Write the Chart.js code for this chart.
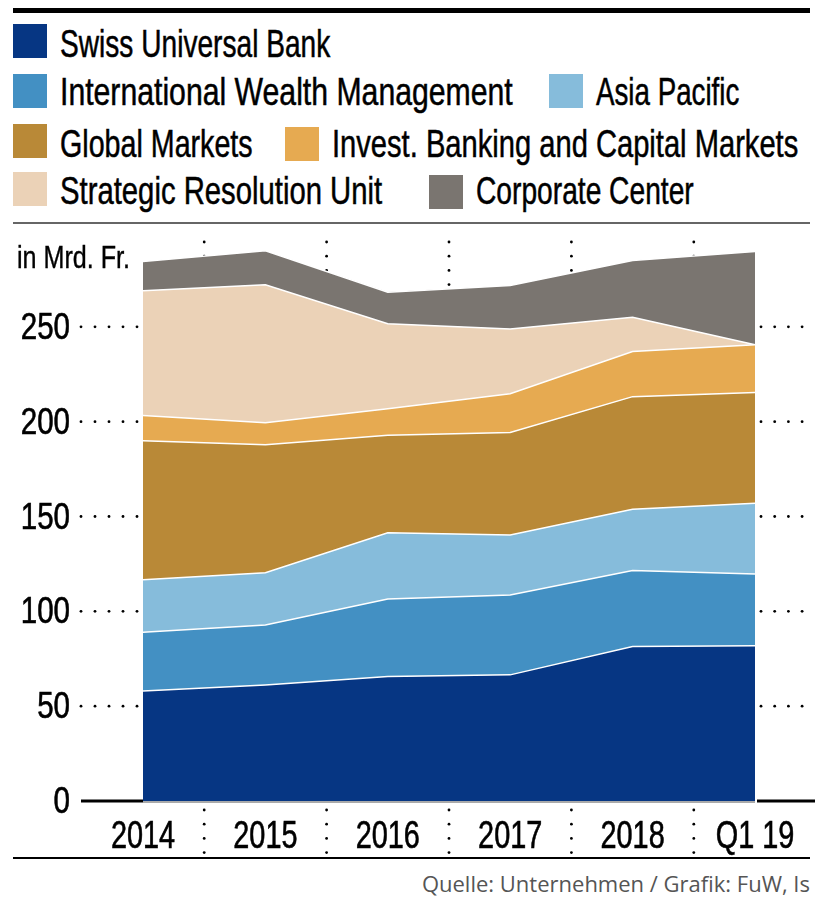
<!DOCTYPE html>
<html>
<head>
<meta charset="utf-8">
<script src="https://cdn.jsdelivr.net/npm/chart.js@4.4.1/dist/chart.umd.min.js"></script>
<style>
  body { margin: 0; background: #fff; width: 828px; height: 911px; position: relative; overflow: hidden;
         font-family: 'Liberation Sans', Arial, sans-serif; color: #000; }
  .rule { position: absolute; left: 13px; width: 797px; }
  .box { position: absolute; width: 34px; height: 34px; }
  .lbl { position: absolute; font-size: 38px; line-height: 38px; white-space: nowrap;
         transform-origin: left center; -webkit-text-stroke: 0.5px #000; }
  #unit { position: absolute; left: 17px; top: 241px; font-size: 32px; line-height: 32px; white-space: nowrap;
          transform-origin: left center; -webkit-text-stroke: 0.4px #000; }
  #source { position: absolute; right: 18px; top: 873px; font-family: 'Open Sans', sans-serif;
            font-size: 22px; line-height: 21px; color: #555; }
  #wrap { position: absolute; left: 0; top: 230px; width: 828px; height: 630px; }
</style>
</head>
<body>
<div class="rule" style="top:8px;height:5px;background:#000"></div>
<div id="legend"></div>
<div class="rule" style="top:222px;height:2px;background:#666"></div>
<div id="wrap"><canvas id="chart" width="828" height="630"></canvas></div>
<div id="unit">in Mrd. Fr.</div>
<div class="rule" style="top:857px;height:2px;background:#000"></div>
<div id="source">Quelle: Unternehmen / Grafik: FuW, Is</div>
<script>
// Categories and series (in Mrd. Fr.)
const years = ['2014', '2015', '2016', '2017', '2018', 'Q1 19'];
const swissUniversalBank = [58, 61.2, 65.6, 66.5, 81.5, 81.8];
const intlWealthMgmt = [31, 31.6, 40.9, 42.1, 40, 37.9];
const asiaPacific = [27.6, 27.5, 34.9, 31.7, 32.3, 37.3];
const globalMarkets = [73.4, 67.5, 51.4, 54, 59.4, 58.4];
const investBanking = [13.3, 11.6, 14, 20.4, 23.8, 25.1];
const strategicResolution = [65.7, 72.8, 44.8, 34.1, 18.1, 0];
const corporateCenter = [15.4, 17.9, 16.7, 23, 29.9, 49.2];
const yTicks = [0, 50, 100, 150, 200, 250];

const series = [
    { label: 'Swiss Universal Bank', data: swissUniversalBank, color: '#063683' },
    { label: 'International Wealth Management', data: intlWealthMgmt, color: '#4390c3' },
    { label: 'Asia Pacific', data: asiaPacific, color: '#86bcdb' },
    { label: 'Global Markets', data: globalMarkets, color: '#b98937' },
    { label: 'Invest. Banking and Capital Markets', data: investBanking, color: '#e6aa51' },
    { label: 'Strategic Resolution Unit', data: strategicResolution, color: '#ebd2b7' },
    { label: 'Corporate Center', data: corporateCenter, color: '#7a7570' }
];

// legend: [box left, box top, text left, text top, text width]
const legendPos = [
    [13, 24, 60, 25, 270], [13, 74, 60, 73, 453], [549, 74, 596, 73, 143],
    [13, 124, 60, 125, 193], [285, 127, 332, 125, 466],
    [13, 172, 60, 172, 322], [429, 175, 476, 172, 218]
];
let legendHtml = '';
series.forEach((s, i) => {
    const p = legendPos[i];
    legendHtml += `<div class="box" style="left:${p[0]}px;top:${p[1]}px;background:${s.color}"></div>
        <div class="lbl" data-w="${p[4]}" style="left:${p[2]}px;top:${p[3]}px">${s.label}</div>`;
});
document.getElementById('legend').innerHTML = legendHtml;

// squeeze the labels to the width of the condensed original font
function fitWidth(el, w) {
    el.style.transform = `scaleX(${w / el.offsetWidth})`;
}
document.querySelectorAll('.lbl').forEach(el => fitWidth(el, +el.dataset.w));
fitWidth(document.getElementById('unit'), 113);

function dot(ctx, x, y) {
    ctx.beginPath();
    ctx.arc(x, y, 1.4, 0, Math.PI * 2);
    ctx.fill();
}

function squeezedText(ctx, text, x, y, align, sx) {
    ctx.save();
    ctx.translate(x, y);
    ctx.scale(sx, 1);
    ctx.textAlign = align;
    ctx.textBaseline = 'alphabetic';
    ctx.lineWidth = 0.6;
    ctx.strokeStyle = '#000';
    ctx.fillText(text, 0, 0);
    ctx.strokeText(text, 0, 0);
    ctx.restore();
}

const decorations = {
    id: 'decorations',
    beforeDatasetsDraw(chart) {
        const ctx = chart.ctx, xs = chart.scales.x;
        ctx.save();
        ctx.fillStyle = '#000';
        for (let i = 0; i < years.length - 1; i++) {
            const x = (xs.getPixelForTick(i) + xs.getPixelForTick(i + 1)) / 2;
            for (let y = 12; y < 625; y += 14.2) dot(ctx, x, y);
        }
        ctx.restore();
    },
    afterDatasetsDraw(chart) {
        const ctx = chart.ctx, xs = chart.scales.x, ys = chart.scales.y, area = chart.chartArea;
        ctx.save();
        ctx.fillStyle = '#000';
        ys.ticks.forEach((t, i) => {
            if (t.value === 0) return;
            const y = ys.getPixelForTick(i);
            for (let x = 81; x < 140; x += 14) dot(ctx, x, y);
            for (let x = 761; x < 805; x += 13.7) dot(ctx, x, y);
        });
        const y0 = ys.getPixelForValue(0);
        ctx.fillStyle = '#aaa';
        ctx.fillRect(area.left, y0, area.right - area.left, 2);
        ctx.fillStyle = '#000';
        ctx.fillRect(81, y0 - 1.5, area.left - 81, 3);
        ctx.fillRect(area.right + 2, y0 - 1.5, 815 - area.right - 2, 3);

        // tick labels, from the library's scales
        ctx.font = "36px 'Liberation Sans', Arial, sans-serif";
        ys.ticks.forEach((t, i) => {
            squeezedText(ctx, String(t.value), 70, ys.getPixelForTick(i) + 12, 'right', 0.82);
        });
        ctx.font = "38px 'Liberation Sans', Arial, sans-serif";
        xs.ticks.forEach((t, i) => {
            squeezedText(ctx, xs.getLabelForValue(t.value), xs.getPixelForTick(i), area.bottom + 47, 'center', 0.76);
        });
        ctx.restore();
    }
};

new Chart(document.getElementById('chart'), {
    type: 'line',
    data: {
        labels: years,
        datasets: series.map((s, i) => ({
            label: s.label,
            data: s.data,
            backgroundColor: s.color,
            borderColor: '#fff',
            borderWidth: 1.5,
            pointRadius: 0,
            tension: 0,
            fill: i === 0 ? 'origin' : '-1'
        }))
    },
    options: {
        responsive: false,
        animation: false,
        layout: { padding: { top: 2, right: 73, left: 143, bottom: 59 } },
        plugins: { legend: { display: false }, tooltip: { enabled: false } },
        scales: {
            x: {
                offset: false,
                grid: { display: false, drawTicks: false },
                border: { display: false },
                ticks: { display: false, autoSkip: false }
            },
            y: {
                stacked: true,
                min: 0,
                max: 300,
                grid: { display: false, drawTicks: false },
                border: { display: false },
                afterBuildTicks(scale) { scale.ticks = yTicks.map(v => ({ value: v })); },
                ticks: { display: false }
            }
        }
    },
    plugins: [decorations]
});
</script>
</body>
</html>
